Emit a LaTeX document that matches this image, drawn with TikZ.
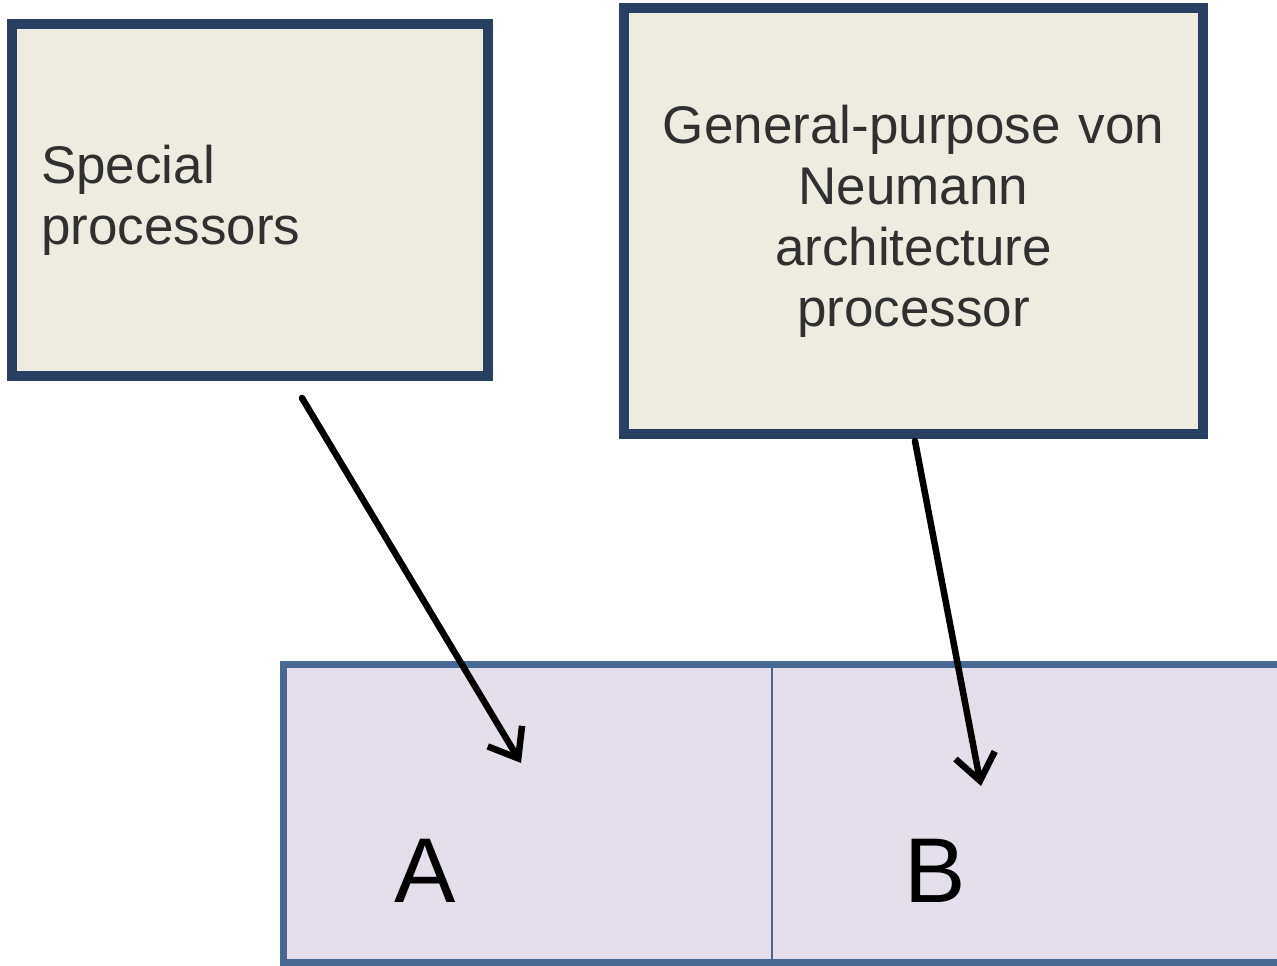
\documentclass[tikz,border=0pt]{standalone}
\usepackage{fontspec}
\setmainfont{Liberation Sans}
\usetikzlibrary{positioning}
\usetikzlibrary{arrows.meta}
\definecolor{navy}{RGB}{41,64,99}
\definecolor{parchment}{RGB}{238,235,224}
\definecolor{lilac}{RGB}{228,223,235}
\definecolor{steel}{RGB}{72,104,145}
\definecolor{inkgray}{RGB}{48,48,48}

\begin{document}
\begin{tikzpicture}[
    x=1pt, y=-1pt,
    >={Straight Barb[length=26pt,width=40pt]},
    % node styles
    procbox/.style = {
      draw=navy,
      line width=10pt,
      fill=parchment,
      text=inkgray,
      inner sep=0pt,
      font=\fontsize{53}{61}\selectfont
    },
    cell/.style = {
      draw=steel,
      line width=1.5pt,
      fill=lilac,
      inner sep=0pt,
      outer sep=0pt,
      minimum height=298pt
    },
    letter/.style = {
      inner sep=0pt,
      text=black,
      font=\fontsize{92}{92}\selectfont
    },
    % arrow styles
    arr/.style = {->, line width=6.5pt, draw=black, line cap=round, line join=round},
    frame/.style = {draw=steel, line width=7pt}
  ]

  \useasboundingbox (0,0) rectangle (1277,966);
  \clip (0,0) rectangle (1277,966);

  % --- Processor boxes
  \node[procbox, minimum width=476pt, minimum height=352pt,
        text width=418pt, align=left] (special) at (250,200) {Special\\processors};
  \node[procbox, minimum width=579pt, minimum height=426pt,
        align=center] (general) at (913.5,221)
        {General-purpose\hspace{18pt}von\\Neumann\\architecture\\processor};

  % --- Memory cells
  \node[cell, minimum width=489pt] (cellA) at (527.5,813) {};
  \node[cell, minimum width=523pt, right=0pt of cellA] (cellB) {};
  \draw[frame] (cellA.north west) rectangle (cellB.south east);

  \node[letter] (labA) at (425,871) {A};
  \node[letter] (labB) at (935,871) {B};

  % --- Arrows
  \coordinate (tipA) at (521,763);
  \coordinate (tipB) at (981,786);
  \draw[arr] ([xshift=52pt,yshift=-17pt]special.south) -- (tipA);
  \draw[arr] ([xshift=1.5pt,yshift=-2pt]general.south) -- (tipB);
\end{tikzpicture}
\end{document}
